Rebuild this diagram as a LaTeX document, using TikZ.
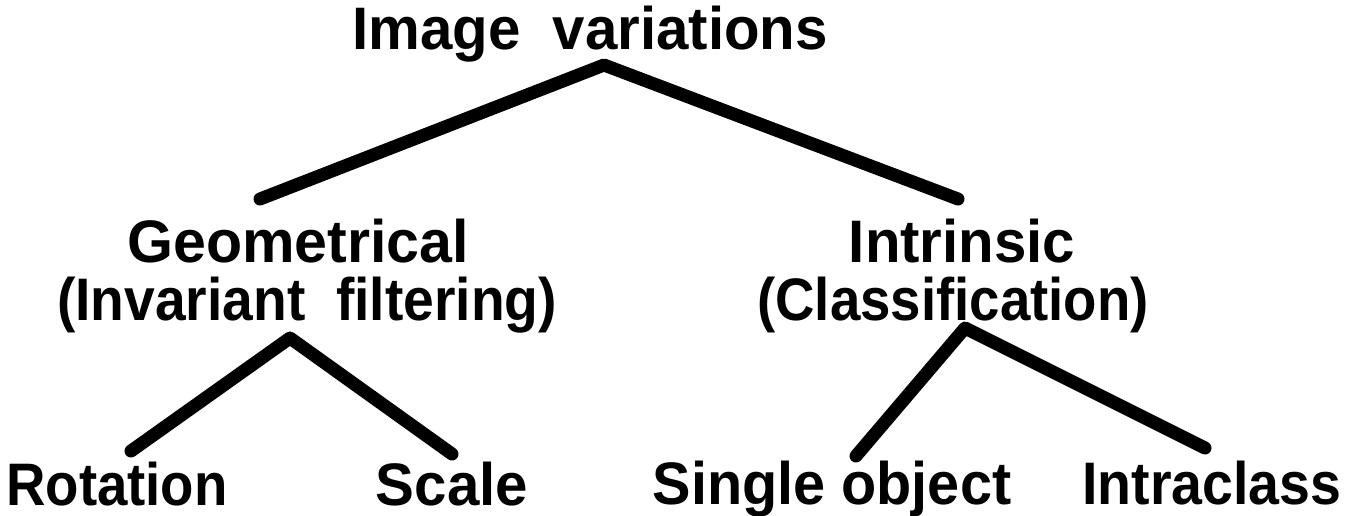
\documentclass[tikz,border=0pt]{standalone}
\usepackage{fontspec}
\setmainfont{Liberation Sans}
% horizontal squeeze for a label
\newcommand{\narrow}[2]{\scalebox{#1}[1]{#2}}
\begin{document}
\begin{tikzpicture}[x=1pt,y=-1pt,
  lbl/.style={font=\bfseries\fontsize{60}{62}\selectfont, anchor=base, inner sep=0pt},
  branch/.style={line width=13pt, line cap=round, line join=round}]
\useasboundingbox (0,0) rectangle (1346,515);

% labels
\node[lbl] (root)  at (590,49)  {\narrow{0.97}{Image\ \ variations}};
\node[lbl] (geo)   at (298,262) {\narrow{0.985}{Geometrical}};
\node[lbl] (geo2)  at (307,320) {\narrow{0.92}{(Invariant\ \ filtering)}};
\node[lbl] (intr)  at (962,262) {\narrow{0.97}{Intrinsic}};
\node[lbl] (intr2) at (953,320) {\narrow{0.91}{(Classification)}};
\node[lbl] (rot)   at (117,505) {\narrow{0.91}{Rotation}};
\node[lbl] (scl)   at (452,505) {\narrow{0.97}{Scale}};
\node[lbl] (sgl)   at (832,504) {\narrow{0.96}{Single object}};
\node[lbl] (icl)   at (1212,504) {\narrow{0.925}{Intraclass}};

% branch points
\coordinate (rootJ) at (604,65);
\coordinate (geoE)  at (260,199);
\coordinate (intrE) at (958,199);
\coordinate (geoJ)  at (290,338);
\coordinate (rotE)  at (131,451);
\coordinate (sclE)  at (452,454);
\coordinate (intrJ) at (965,328);
\coordinate (sglE)  at (856,456);
\coordinate (iclE)  at (1205,448);

% tree branches
\draw[branch] (geoE) -- (rootJ) -- (intrE);
\draw[branch] (rotE) -- (geoJ) -- (sclE);
\draw[branch] (sglE) -- (intrJ) -- (iclE);
\end{tikzpicture}
\end{document}
